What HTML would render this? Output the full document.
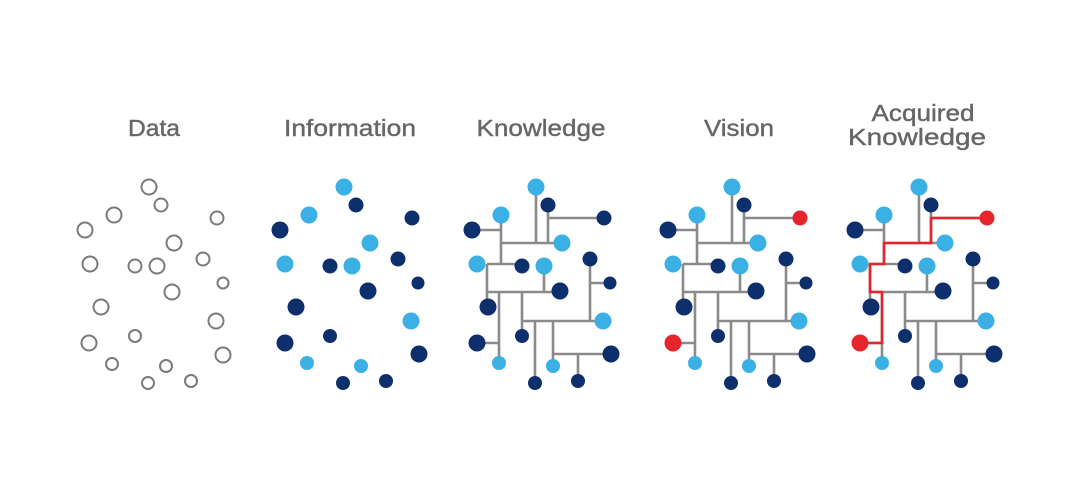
<!DOCTYPE html>
<html><head><meta charset="utf-8"><style>
html,body{margin:0;padding:0;background:#fff;width:1080px;height:497px;overflow:hidden}
svg{display:block}
text{font-family:"Liberation Sans",sans-serif;font-size:23px;fill:#666;text-anchor:middle;stroke:#666;stroke-width:0.4}
</style></head><body>
<svg width="1080" height="497" viewBox="0 0 1080 497">
<defs>
<g id="lines" stroke="#8a8a8a" stroke-width="2.6" fill="none">
<path d="M536 187V243M548 205V243M548 218H604M501 215V264M472 230H501M501 243H562M487 264H522M487 264V307M487 292H560M544 266V292M499 292V363M477 343H499M522 292V336M522 321H603M590 259V321M590 283H610M535 321V383M553 321V366M553 354H611M578 354V381"/>
</g>
<g id="base">
<circle cx="536" cy="187" r="8.5" fill="#3bb0e4"/>
<circle cx="548" cy="205" r="7.5" fill="#0d2f6b"/>
<circle cx="501" cy="215" r="8.5" fill="#3bb0e4"/>
<circle cx="472" cy="230" r="8.5" fill="#0d2f6b"/>
<circle cx="562" cy="243" r="8.5" fill="#3bb0e4"/>
<circle cx="477" cy="264" r="8.5" fill="#3bb0e4"/>
<circle cx="522" cy="266" r="7.5" fill="#0d2f6b"/>
<circle cx="544" cy="266" r="8.5" fill="#3bb0e4"/>
<circle cx="590" cy="259" r="7.5" fill="#0d2f6b"/>
<circle cx="610" cy="283" r="6.5" fill="#0d2f6b"/>
<circle cx="560" cy="291" r="8.5" fill="#0d2f6b"/>
<circle cx="488" cy="307" r="8.5" fill="#0d2f6b"/>
<circle cx="603" cy="321" r="8.5" fill="#3bb0e4"/>
<circle cx="522" cy="336" r="7" fill="#0d2f6b"/>
<circle cx="611" cy="354" r="8.5" fill="#0d2f6b"/>
<circle cx="499" cy="363" r="7" fill="#3bb0e4"/>
<circle cx="553" cy="366" r="7" fill="#3bb0e4"/>
<circle cx="535" cy="383" r="7" fill="#0d2f6b"/>
<circle cx="578" cy="381" r="7" fill="#0d2f6b"/>
</g>
</defs>

<text x="154" y="136" textLength="52" lengthAdjust="spacingAndGlyphs">Data</text>
<text x="350" y="136" textLength="132" lengthAdjust="spacingAndGlyphs">Information</text>
<text x="541" y="136" textLength="129" lengthAdjust="spacingAndGlyphs">Knowledge</text>
<text x="739" y="136" textLength="70" lengthAdjust="spacingAndGlyphs">Vision</text>
<text x="923" y="121" textLength="103" lengthAdjust="spacingAndGlyphs">Acquired</text>
<text x="917" y="145" textLength="138" lengthAdjust="spacingAndGlyphs">Knowledge</text>

<!-- Data -->
<g fill="none" stroke="#7a7a7a" stroke-width="2">
<circle cx="149" cy="187" r="7.5"/><circle cx="161" cy="205" r="6.5"/><circle cx="114" cy="215" r="7.5"/>
<circle cx="217" cy="218" r="6.5"/><circle cx="85" cy="230" r="7.5"/><circle cx="174" cy="243" r="7.5"/>
<circle cx="90" cy="264" r="7.5"/><circle cx="135" cy="266" r="6.5"/><circle cx="157" cy="266" r="7.5"/>
<circle cx="203" cy="259" r="6.5"/><circle cx="223" cy="283" r="5.5"/><circle cx="172" cy="292" r="7.5"/>
<circle cx="101" cy="307" r="7.5"/><circle cx="216" cy="321" r="7.5"/><circle cx="135" cy="336" r="6"/>
<circle cx="89" cy="343" r="7.5"/><circle cx="223" cy="355" r="7.5"/><circle cx="112" cy="364" r="6"/>
<circle cx="166" cy="366" r="6"/><circle cx="148" cy="383" r="6"/><circle cx="191" cy="381" r="6"/>
</g>

<g transform="translate(-192,0)">
<use href="#base"/>
<circle cx="604" cy="218" r="7.5" fill="#0d2f6b"/>
<circle cx="477" cy="343" r="8.5" fill="#0d2f6b"/>
</g>

<g>
<use href="#lines"/>
<use href="#base"/>
<circle cx="604" cy="218" r="7.5" fill="#0d2f6b"/>
<circle cx="477" cy="343" r="8.5" fill="#0d2f6b"/>
</g>

<g transform="translate(196,0)">
<use href="#lines"/>
<use href="#base"/>
<circle cx="604" cy="218" r="7.5" fill="#e4262c"/>
<circle cx="477" cy="343" r="8.5" fill="#e4262c"/>
</g>

<g transform="translate(383,0)">
<use href="#lines"/>
<path d="M604 218H548V243H501V264H487V292H499V343H477" stroke="#e4262c" stroke-width="2.6" fill="none"/>
<use href="#base"/>
<circle cx="604" cy="218" r="7.5" fill="#e4262c"/>
<circle cx="477" cy="343" r="8.5" fill="#e4262c"/>
</g>
</svg>
</body></html>
